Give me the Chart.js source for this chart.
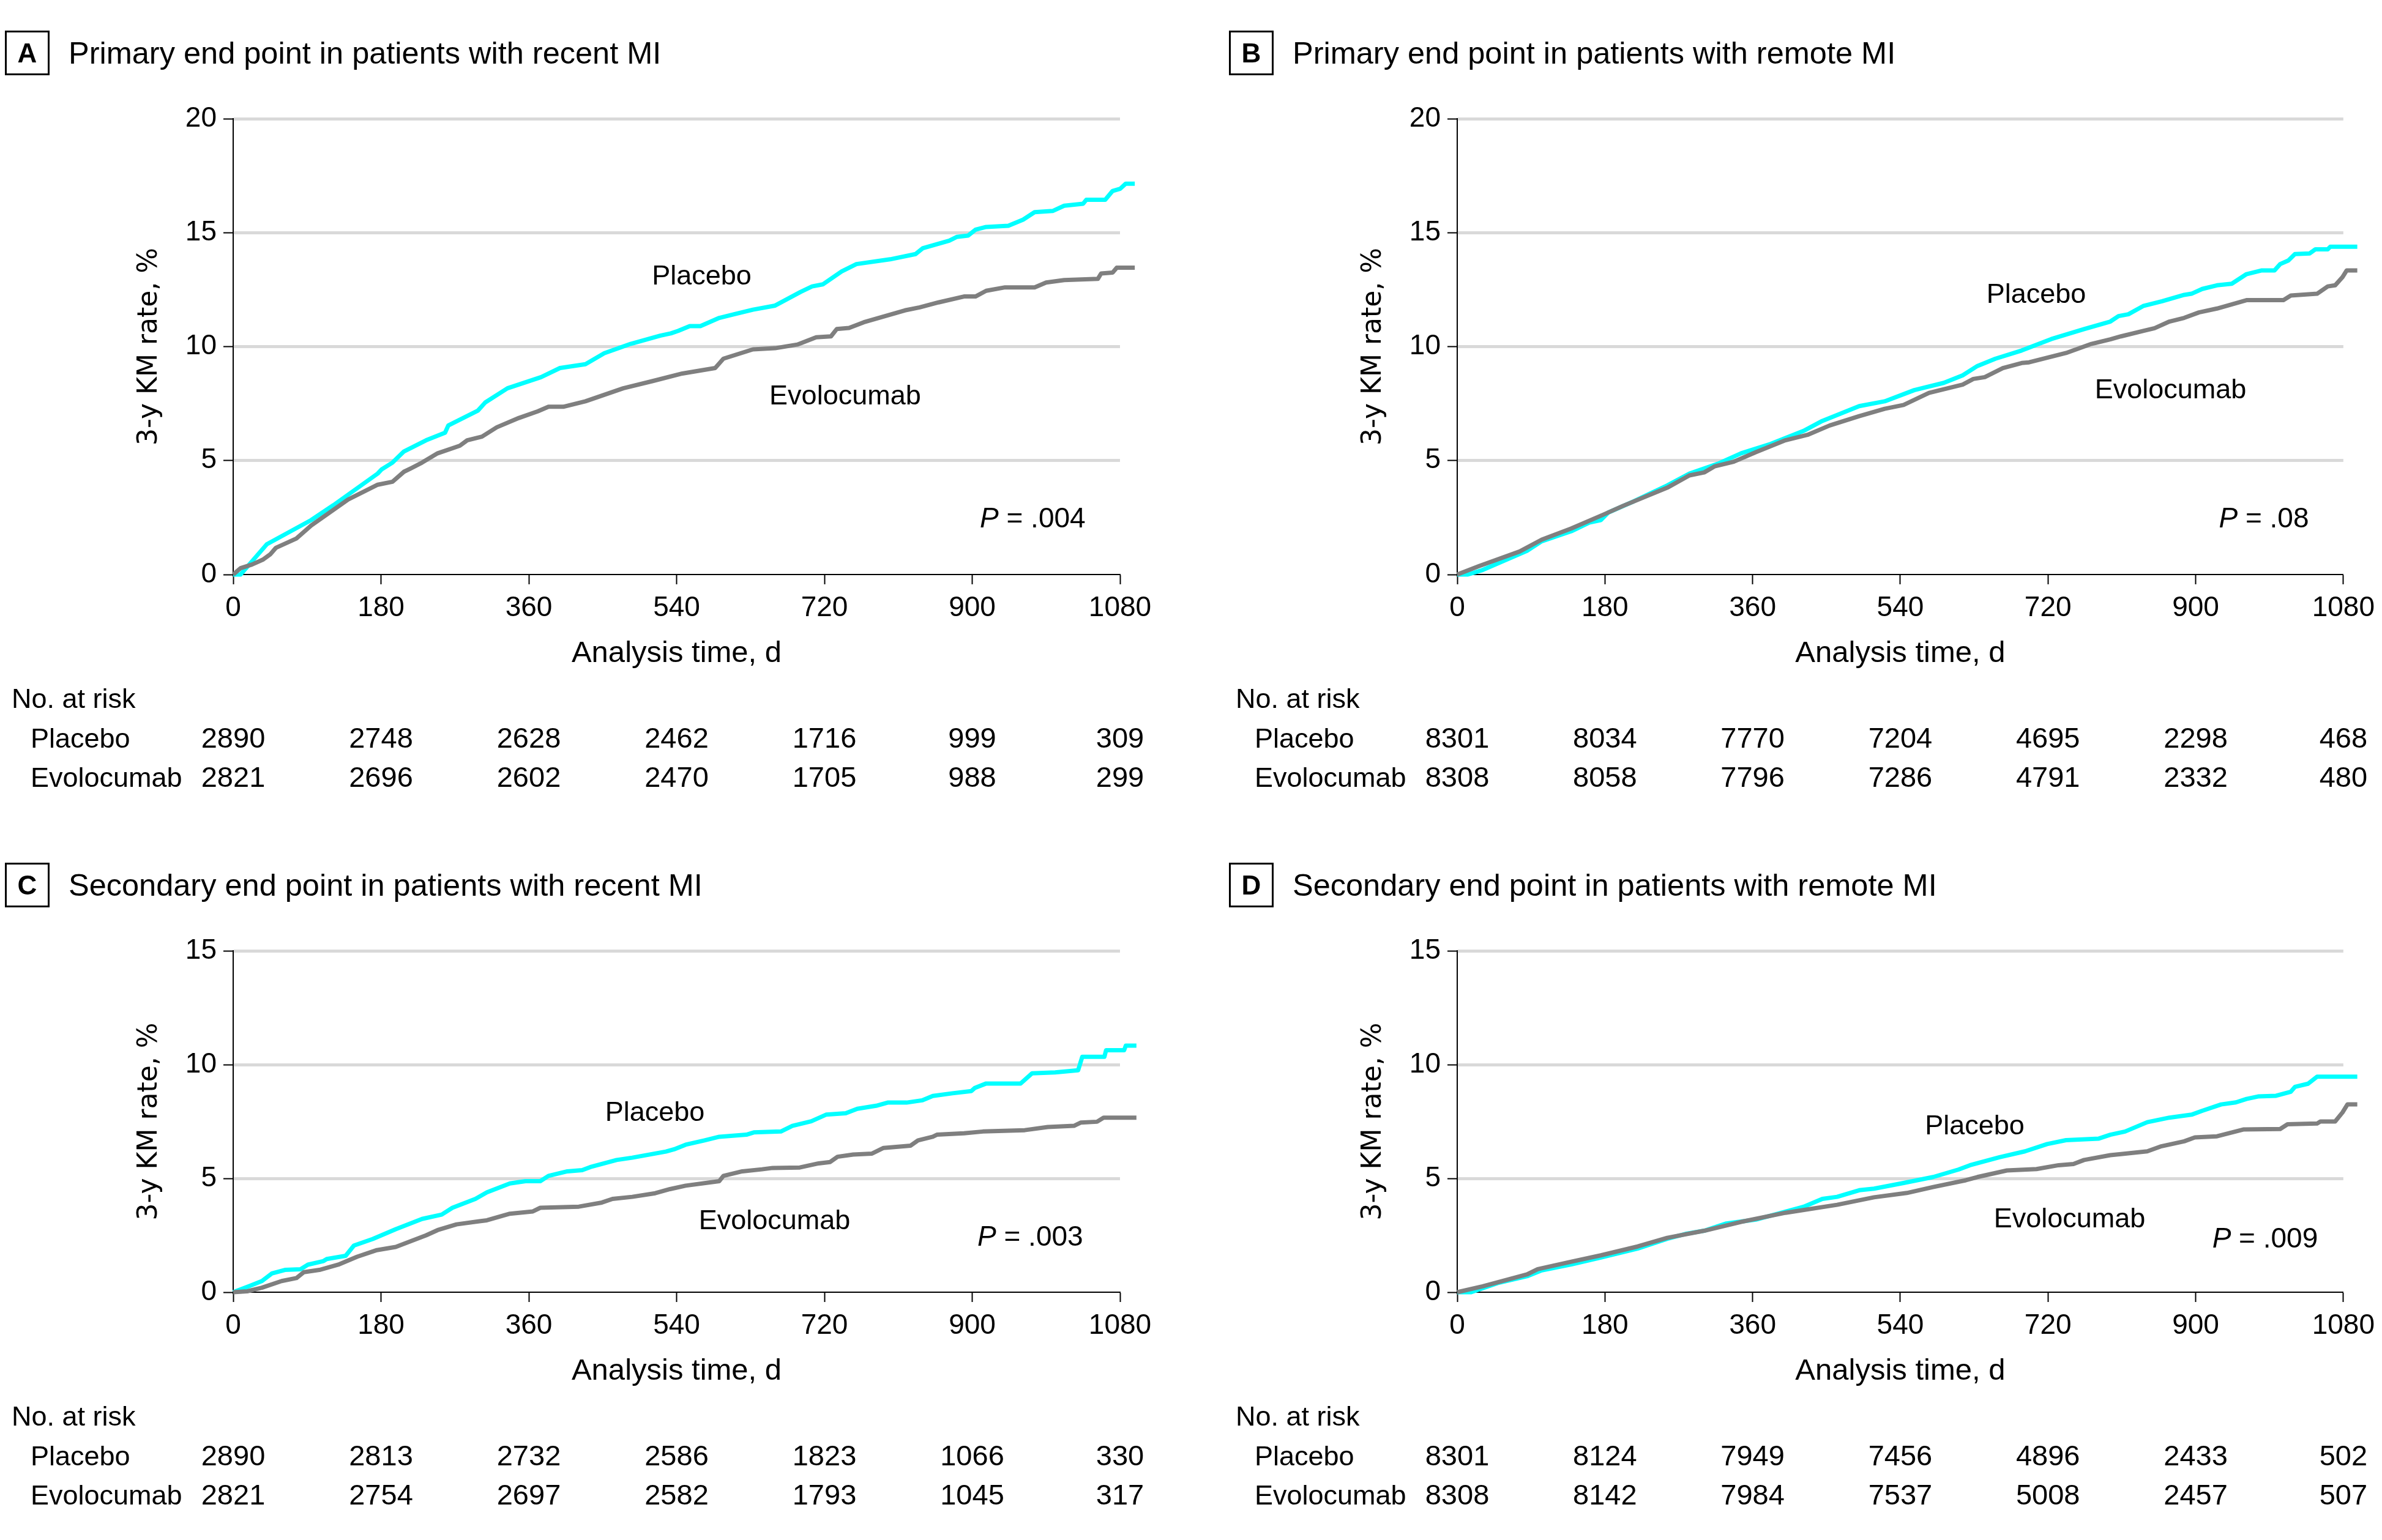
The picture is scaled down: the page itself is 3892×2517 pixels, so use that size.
<!DOCTYPE html>
<html>
<head>
<meta charset="utf-8">
<script src="https://cdn.jsdelivr.net/npm/chart.js"></script>
<style>
html,body{margin:0;padding:0;background:#fff;}
#wrap{position:relative;width:3892px;height:2517px;background:#fff;overflow:hidden;}
#wrap canvas{position:absolute;}
</style>
</head>
<body>
<div id="wrap">
<canvas id="cA" width="2000" height="1360" style="left:0px;top:0px;width:2000px;height:1360px"></canvas>
<canvas id="cB" width="1892" height="1360" style="left:2000px;top:0px;width:1892px;height:1360px"></canvas>
<canvas id="cC" width="2000" height="1157" style="left:0px;top:1360px;width:2000px;height:1157px"></canvas>
<canvas id="cD" width="1892" height="1157" style="left:2000px;top:1360px;width:1892px;height:1157px"></canvas>
</div>
<script>
// ---------------- DATA ----------------
const xTickValues = [0, 180, 360, 540, 720, 900, 1080];
const yTicksPrimary = [0, 5, 10, 15, 20];
const yTicksSecondary = [0, 5, 10, 15];
const riskDays = [0, 180, 360, 540, 720, 900, 1080];

// Panel A: primary end point, recent MI
const A_placebo_days = [0, 9, 41, 95, 122, 176, 181, 194, 208, 235, 258, 262, 298, 307, 334, 375, 398, 429, 452, 484, 520, 533, 542, 556, 569, 592, 610, 633, 660, 691, 705, 718, 741, 759, 800, 831, 840, 872, 881, 895, 904, 917, 944, 962, 976, 998, 1012, 1035, 1039, 1062, 1071, 1080, 1087, 1098];
const A_placebo_rate = [0, 0, 1.33, 2.39, 3.04, 4.43, 4.62, 4.91, 5.40, 5.89, 6.22, 6.54, 7.19, 7.55, 8.17, 8.66, 9.06, 9.23, 9.71, 10.12, 10.48, 10.58, 10.69, 10.90, 10.90, 11.26, 11.42, 11.62, 11.80, 12.40, 12.64, 12.73, 13.30, 13.62, 13.83, 14.06, 14.32, 14.65, 14.81, 14.87, 15.13, 15.25, 15.30, 15.57, 15.90, 15.95, 16.18, 16.27, 16.44, 16.44, 16.83, 16.92, 17.15, 17.15];
const A_evo_days = [0, 9, 23, 36, 45, 52, 77, 95, 140, 176, 194, 208, 217, 230, 249, 276, 285, 303, 321, 348, 371, 384, 402, 429, 475, 511, 547, 587, 597, 633, 660, 687, 710, 728, 735, 750, 768, 818, 836, 859, 890, 904, 917, 940, 976, 990, 1012, 1053, 1057, 1071, 1076, 1098];
const A_evo_rate = [0, 0.28, 0.44, 0.65, 0.88, 1.17, 1.58, 2.15, 3.29, 3.94, 4.07, 4.51, 4.67, 4.91, 5.32, 5.65, 5.89, 6.05, 6.46, 6.87, 7.16, 7.36, 7.36, 7.60, 8.17, 8.49, 8.82, 9.06, 9.47, 9.88, 9.93, 10.09, 10.41, 10.45, 10.77, 10.82, 11.07, 11.59, 11.72, 11.94, 12.20, 12.20, 12.45, 12.60, 12.60, 12.81, 12.92, 12.97, 13.21, 13.25, 13.46, 13.46];
const A_risk_placebo = [2890, 2748, 2628, 2462, 1716, 999, 309];
const A_risk_evo = [2821, 2696, 2602, 2470, 1705, 988, 299];

// Panel B: primary end point, remote MI
const B_placebo_days = [0, 13, 31, 85, 103, 139, 161, 175, 184, 215, 256, 283, 319, 346, 382, 422, 445, 490, 521, 557, 593, 616, 634, 656, 688, 724, 764, 796, 806, 818, 836, 859, 886, 895, 908, 926, 944, 962, 980, 996, 1003, 1013, 1021, 1039, 1046, 1061, 1064, 1097];
const B_placebo_rate = [0, 0, 0.20, 1.04, 1.46, 1.90, 2.28, 2.39, 2.72, 3.21, 3.91, 4.43, 4.88, 5.32, 5.73, 6.30, 6.74, 7.39, 7.60, 8.09, 8.41, 8.74, 9.15, 9.47, 9.83, 10.33, 10.77, 11.10, 11.34, 11.42, 11.78, 11.99, 12.27, 12.32, 12.53, 12.69, 12.76, 13.18, 13.34, 13.34, 13.62, 13.78, 14.06, 14.09, 14.27, 14.27, 14.38, 14.38];
const B_evo_days = [0, 26, 76, 103, 139, 179, 202, 256, 283, 301, 314, 337, 364, 400, 427, 454, 490, 521, 544, 575, 616, 629, 643, 665, 688, 697, 742, 773, 796, 809, 836, 850, 868, 886, 904, 926, 962, 1007, 1016, 1048, 1061, 1070, 1079, 1084, 1097];
const B_evo_rate = [0, 0.36, 1.01, 1.53, 2.02, 2.64, 3.01, 3.81, 4.35, 4.48, 4.75, 4.95, 5.37, 5.89, 6.13, 6.54, 6.95, 7.27, 7.44, 7.97, 8.33, 8.58, 8.66, 9.06, 9.28, 9.31, 9.72, 10.12, 10.32, 10.45, 10.69, 10.81, 11.10, 11.26, 11.50, 11.67, 12.04, 12.04, 12.24, 12.32, 12.64, 12.69, 13.05, 13.34, 13.34];
const B_risk_placebo = [8301, 8034, 7770, 7204, 4695, 2298, 468];
const B_risk_evo = [8308, 8058, 7796, 7286, 4791, 2332, 480];

// Panel C: secondary end point, recent MI
const C_placebo_days = [0, 21, 35, 47, 63, 82, 91, 110, 114, 137, 147, 170, 198, 230, 254, 267, 295, 309, 337, 356, 374, 384, 407, 425, 435, 467, 486, 527, 537, 551, 574, 592, 625, 634, 667, 681, 704, 722, 746, 760, 783, 797, 820, 839, 852, 876, 899, 903, 917, 959, 973, 1001, 1029, 1034, 1061, 1063, 1085, 1087, 1100];
const C_placebo_rate = [0, 0.29, 0.49, 0.82, 0.98, 1.01, 1.21, 1.37, 1.46, 1.60, 2.05, 2.34, 2.77, 3.22, 3.41, 3.71, 4.10, 4.39, 4.78, 4.88, 4.88, 5.11, 5.31, 5.36, 5.50, 5.81, 5.91, 6.18, 6.28, 6.48, 6.67, 6.83, 6.92, 7.02, 7.06, 7.31, 7.51, 7.80, 7.86, 8.06, 8.19, 8.33, 8.33, 8.43, 8.62, 8.74, 8.84, 8.97, 9.17, 9.17, 9.62, 9.66, 9.75, 10.34, 10.34, 10.63, 10.63, 10.83, 10.83];
const C_evo_days = [0, 17, 35, 59, 77, 86, 105, 128, 151, 175, 198, 216, 235, 249, 272, 300, 309, 337, 365, 374, 421, 449, 462, 486, 514, 532, 551, 592, 597, 620, 644, 657, 690, 713, 727, 736, 755, 778, 792, 825, 834, 852, 857, 890, 913, 964, 992, 1024, 1032, 1052, 1060, 1100];
const C_evo_rate = [0, 0.04, 0.20, 0.49, 0.62, 0.88, 0.98, 1.21, 1.56, 1.85, 1.99, 2.24, 2.50, 2.73, 2.98, 3.12, 3.16, 3.45, 3.55, 3.71, 3.76, 3.94, 4.10, 4.19, 4.35, 4.53, 4.68, 4.88, 5.11, 5.31, 5.40, 5.46, 5.48, 5.66, 5.72, 5.95, 6.05, 6.09, 6.34, 6.44, 6.67, 6.83, 6.92, 6.98, 7.06, 7.12, 7.26, 7.31, 7.45, 7.49, 7.67, 7.67];
const C_risk_placebo = [2890, 2813, 2732, 2586, 1823, 1066, 330];
const C_risk_evo = [2821, 2754, 2697, 2582, 1793, 1045, 317];

// Panel D: secondary end point, remote MI
const D_placebo_days = [0, 17, 49, 85, 103, 139, 175, 220, 256, 278, 301, 328, 364, 400, 422, 445, 463, 490, 508, 544, 580, 611, 625, 661, 692, 719, 742, 782, 796, 814, 841, 868, 895, 908, 931, 949, 962, 976, 998, 1016, 1021, 1037, 1048, 1097];
const D_placebo_rate = [0, 0, 0.40, 0.70, 0.96, 1.22, 1.52, 1.92, 2.35, 2.56, 2.70, 3.02, 3.19, 3.54, 3.75, 4.10, 4.19, 4.48, 4.55, 4.80, 5.06, 5.39, 5.58, 5.93, 6.19, 6.51, 6.68, 6.75, 6.92, 7.06, 7.47, 7.67, 7.80, 7.97, 8.25, 8.34, 8.49, 8.60, 8.63, 8.81, 9.02, 9.16, 9.47, 9.47];
const D_evo_days = [0, 31, 85, 98, 139, 175, 220, 256, 301, 346, 400, 463, 508, 548, 580, 620, 634, 670, 706, 733, 751, 764, 796, 809, 841, 857, 886, 899, 926, 958, 1003, 1012, 1048, 1052, 1070, 1079, 1085, 1097];
const D_evo_rate = [0, 0.26, 0.78, 1.01, 1.34, 1.62, 2.01, 2.39, 2.70, 3.09, 3.49, 3.84, 4.17, 4.36, 4.62, 4.92, 5.06, 5.35, 5.41, 5.58, 5.63, 5.81, 6.02, 6.07, 6.19, 6.40, 6.63, 6.80, 6.85, 7.15, 7.17, 7.38, 7.41, 7.50, 7.50, 7.90, 8.25, 8.25];
const D_risk_placebo = [8301, 8124, 7949, 7456, 4896, 2433, 502];
const D_risk_evo = [8308, 8142, 7984, 7537, 5008, 2457, 507];

// ---------------- STYLE ----------------
const FAM = '"Liberation Sans", Arial, sans-serif';
const CYAN = '#00ffff';
const GRAY = '#7f7f7f';

const decorPlugin = {
  id: 'panelDecor',
  afterDraw(chart) {
    const cfg = chart.options.plugins.panelDecor;
    if (!cfg) return;
    const ctx = chart.ctx;
    const area = chart.chartArea;
    const xs = chart.scales.x, ys = chart.scales.y;
    ctx.save();
    ctx.fillStyle = '#000';
    ctx.strokeStyle = '#000';
    // panel letter box
    ctx.lineWidth = 3;
    ctx.strokeRect(9.5, 51.5, 70, 70);
    ctx.font = 'bold 44px ' + FAM;
    ctx.textAlign = 'center';
    ctx.textBaseline = 'alphabetic';
    ctx.fillText(cfg.letter, 44.5, 102);
    // panel title
    ctx.textAlign = 'left';
    ctx.font = '50.5px ' + FAM;
    ctx.fillText(cfg.title, 112, 104);
    // curve labels
    ctx.font = '45px ' + FAM;
    ctx.fillText('Placebo', xs.getPixelForValue(cfg.placeboAt[0]), ys.getPixelForValue(cfg.placeboAt[1]));
    ctx.fillText('Evolocumab', xs.getPixelForValue(cfg.evoAt[0]), ys.getPixelForValue(cfg.evoAt[1]));
    // P value (right aligned)
    const rest = ' = ' + cfg.p;
    ctx.font = '46px ' + FAM;
    const wRest = ctx.measureText(rest).width;
    ctx.font = 'italic 46px ' + FAM;
    const wP = ctx.measureText('P').width;
    const xr = xs.getPixelForValue(cfg.pAt[0]);
    const yb = ys.getPixelForValue(cfg.pAt[1]);
    ctx.fillText('P', xr - wRest - wP, yb);
    ctx.font = '46px ' + FAM;
    ctx.fillText(rest, xr - wRest, yb);
    // risk table
    const base = area.bottom;
    ctx.font = '45px ' + FAM;
    ctx.fillText('No. at risk', 19, base + 218);
    ctx.fillText('Placebo', 50, base + 283);
    ctx.fillText('Evolocumab', 50, base + 347);
    ctx.font = '47px ' + FAM;
    ctx.textAlign = 'center';
    riskDays.forEach((d, i) => {
      const px = xs.getPixelForValue(d);
      ctx.fillText(String(cfg.riskPlacebo[i]), px, base + 283);
      ctx.fillText(String(cfg.riskEvo[i]), px, base + 347);
    });
    ctx.restore();
  }
};

function xy(days, rates) {
  return days.map((d, i) => ({ x: d, y: rates[i] }));
}

function makeChart(id, yMax, yTicks, padRight, padBottom, evoDays, evoRate, plDays, plRate, decor) {
  return new Chart(document.getElementById(id), {
    type: 'line',
    data: {
      datasets: [
        { label: 'Evolocumab', data: xy(evoDays, evoRate), borderColor: GRAY, backgroundColor: GRAY,
          borderWidth: 7, pointRadius: 0, tension: 0, clip: false, order: 0, borderJoinStyle: 'round' },
        { label: 'Placebo', data: xy(plDays, plRate), borderColor: CYAN, backgroundColor: CYAN,
          borderWidth: 7, pointRadius: 0, tension: 0, clip: false, order: 1, borderJoinStyle: 'round' }
      ]
    },
    options: {
      responsive: false,
      animation: false,
      devicePixelRatio: 1,
      layout: { padding: { top: 194, left: 0, right: padRight, bottom: padBottom } },
      plugins: { legend: { display: false }, tooltip: { enabled: false }, panelDecor: decor },
      scales: {
        x: {
          type: 'linear',
          afterDataLimits: s => { s.min = 0; s.max = 1080; },
          afterFit: s => { s.height = 390; },
          afterBuildTicks: s => { s.ticks = xTickValues.map(v => ({ value: v })); },
          ticks: { stepSize: 180, autoSkip: false, maxRotation: 0, padding: 12, color: '#000',
                   font: { family: FAM, size: 46 }, callback: v => String(v) },
          grid: { drawOnChartArea: false, drawTicks: true, tickLength: 16, tickColor: '#000', tickWidth: 2 },
          border: { display: true, color: '#000', width: 2 },
          title: { display: true, text: 'Analysis time, d', color: '#000',
                   font: { family: FAM, size: 49 }, padding: { top: 0, bottom: 231 } }
        },
        y: {
          type: 'linear',
          min: 0, max: yMax,
          afterFit: s => { s.width = 381; },
          afterBuildTicks: s => { s.ticks = yTicks.map(v => ({ value: v })); },
          ticks: { stepSize: 5, padding: 11, color: '#000', font: { family: FAM, size: 46 }, callback: v => String(v) },
          grid: {
            color: c => (c.tick && c.tick.value === 0) ? 'rgba(0,0,0,0)' : '#d9d9d9',
            lineWidth: 5, drawTicks: true, tickLength: 16, tickColor: '#000', tickWidth: 2
          },
          border: { display: true, color: '#000', width: 2 },
          title: { display: true, text: '3-y KM rate, %', color: '#000',
                   font: { family: '"DejaVu Sans", Verdana, sans-serif', size: 44 }, padding: { top: 218, bottom: 0 } }
        }
      }
    },
    plugins: [decorPlugin]
  });
}

makeChart('cA', 20, yTicksPrimary, 170, 31, A_evo_days, A_evo_rate, A_placebo_days, A_placebo_rate, {
  letter: 'A', title: 'Primary end point in patients with recent MI', p: '.004',
  pAt: [1038, 2.07], placeboAt: [510, 12.72], evoAt: [653, 7.46],
  riskPlacebo: A_risk_placebo, riskEvo: A_risk_evo
});
makeChart('cB', 20, yTicksPrimary, 63, 31, B_evo_days, B_evo_rate, B_placebo_days, B_placebo_rate, {
  letter: 'B', title: 'Primary end point in patients with remote MI', p: '.08',
  pAt: [1038, 2.07], placeboAt: [645, 11.92], evoAt: [777, 7.74],
  riskPlacebo: B_risk_placebo, riskEvo: B_risk_evo
});
makeChart('cC', 15, yTicksSecondary, 170, 15, C_evo_days, C_evo_rate, C_placebo_days, C_placebo_rate, {
  letter: 'C', title: 'Secondary end point in patients with recent MI', p: '.003',
  pAt: [1035, 2.04], placeboAt: [453, 7.53], evoAt: [567, 2.77],
  riskPlacebo: C_risk_placebo, riskEvo: C_risk_evo
});
makeChart('cD', 15, yTicksSecondary, 63, 15, D_evo_days, D_evo_rate, D_placebo_days, D_placebo_rate, {
  letter: 'D', title: 'Secondary end point in patients with remote MI', p: '.009',
  pAt: [1049, 1.97], placeboAt: [570, 6.94], evoAt: [654, 2.85],
  riskPlacebo: D_risk_placebo, riskEvo: D_risk_evo
});
</script>
</body>
</html>
